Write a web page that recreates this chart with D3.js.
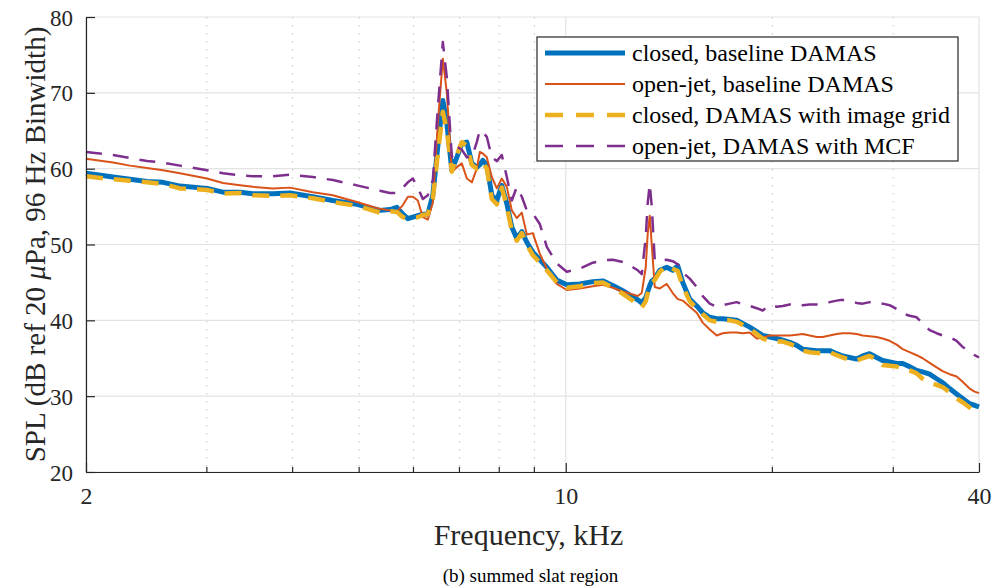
<!DOCTYPE html>
<html>
<head>
<meta charset="utf-8">
<script src="https://cdn.jsdelivr.net/npm/d3@7"></script>
<style>
  body { margin: 0; background: #fff; }
  svg { display: block; font-family: "Liberation Serif", "DejaVu Serif", serif; }
</style>
</head>
<body>
<svg></svg>
<script>
// frequency grid, kHz
var freq = [2.000,2.190,2.318,2.454,2.589,2.741,3.001,3.166,3.352,3.501,3.744,3.964,4.281,4.578,4.962,5.360,5.543,5.674,5.790,5.888,
  5.987,6.088,6.191,6.296,6.402,6.511,6.621,6.710,6.824,6.939,7.056,7.176,7.297,7.420,7.495,7.571,7.673,7.803,7.935,8.069,
  8.206,8.344,8.485,8.629,8.775,8.953,9.166,9.384,9.704,10.034,10.482,10.949,11.322,11.708,12.107,12.520,12.732,12.904,13.078,13.166,
  13.255,13.344,13.479,13.707,14.032,14.317,14.559,14.806,15.157,15.517,15.833,16.209,16.594,16.931,17.333,17.745,18.105,18.535,18.976,19.361,
  19.821,20.292,20.704,21.196,21.699,22.140,22.666,23.204,23.676,24.238,24.814,25.318,25.919,26.535,27.074,27.717,28.375,28.952,29.640,30.344,
  30.960,31.695,32.448,33.108,33.894,34.699,35.404,36.245,37.105,37.859,38.758,39.414,40.000];

var closedBase = [59.4,58.9,58.6,58.3,58.2,57.7,57.4,56.9,56.9,56.7,56.7,56.8,56.3,55.8,55.3,54.5,54.6,54.9,54.0,53.4,
  53.6,53.8,54.0,54.0,56.5,63.0,69.0,66.0,59.8,61.5,63.3,63.5,60.7,60.2,60.5,61.1,60.5,56.5,55.8,57.8,
  55.4,52.3,50.8,51.7,50.3,49.0,48.0,47.0,45.3,44.7,44.8,45.1,45.2,44.6,43.9,43.1,42.7,42.3,43.0,43.8,
  44.6,45.2,45.5,46.6,47.0,46.6,47.2,45.0,42.8,41.9,41.0,40.4,40.2,40.2,40.1,40.0,39.6,39.1,38.5,38.0,
  37.8,37.6,37.4,37.1,36.7,36.2,36.1,36.0,36.0,36.0,35.6,35.3,35.1,34.9,35.3,35.6,35.1,34.7,34.5,34.3,
  34.3,33.9,33.4,33.2,32.9,32.3,31.8,31.0,30.3,29.7,29.0,28.8,28.6];

var openBase = [61.3,60.8,60.4,60.1,59.8,59.4,58.7,58.1,57.8,57.6,57.4,57.5,56.9,56.5,55.6,54.7,54.5,54.3,55.2,56.3,
  56.3,55.8,53.6,53.3,55.5,66.0,74.5,70.0,59.6,60.2,60.7,58.7,58.2,60.0,62.2,62.0,61.5,58.9,57.4,58.7,
  57.6,54.5,53.5,54.2,51.3,51.5,48.8,46.8,44.8,44.0,44.2,44.5,44.7,44.3,43.8,43.4,43.2,43.6,47.0,51.5,
  53.8,50.0,44.4,44.2,44.8,43.6,42.8,42.6,41.8,41.0,39.7,38.8,38.0,38.3,38.4,38.4,38.3,38.4,37.6,37.7,
  38.0,38.0,38.0,38.0,38.1,38.2,38.0,37.8,37.8,38.0,38.2,38.3,38.3,38.2,38.0,37.9,37.8,37.6,37.3,36.8,
  36.2,35.8,35.4,35.0,34.4,33.8,33.3,32.9,32.6,31.9,31.0,30.6,30.4];

var closedImage = [59.0,58.6,58.4,58.2,58.0,57.4,57.2,56.7,56.8,56.5,56.4,56.5,56.1,55.6,55.1,54.2,54.4,54.3,53.6,53.4,
  53.5,53.6,53.9,54.0,56.0,62.0,67.5,65.0,59.6,61.8,63.5,63.0,60.5,60.0,60.3,60.8,60.0,56.0,55.3,57.5,
  55.0,51.8,50.5,51.5,50.0,48.6,47.6,46.6,45.0,44.3,44.5,44.9,45.0,44.3,43.5,42.6,41.8,41.7,42.5,43.6,
  44.5,45.0,45.3,46.4,47.2,46.8,46.5,44.5,42.5,41.6,40.8,40.0,39.8,40.0,40.0,39.8,39.4,38.9,38.2,37.6,
  37.3,37.2,37.2,36.9,36.5,36.0,35.8,35.7,35.7,35.8,35.4,35.1,34.8,34.7,35.0,35.3,34.8,34.1,34.0,33.9,
  33.7,33.4,33.0,32.3,31.8,31.5,31.2,30.5,29.7,29.2,28.5,28.0,27.6];

var openMCF = [62.2,61.8,61.4,61.0,60.8,60.4,59.8,59.4,59.1,59.0,59.0,59.2,58.9,58.5,57.8,57.1,56.8,56.8,57.5,58.2,
  58.7,57.5,56.0,56.5,58.5,68.0,76.7,72.0,61.5,62.9,62.5,61.5,61.5,63.5,65.1,64.8,64.2,61.5,61.0,61.8,
  58.9,55.8,57.6,56.3,54.5,54.1,52.7,49.7,47.5,46.4,46.8,47.6,47.9,48.0,47.7,47.0,46.6,46.1,51.0,55.5,
  58.0,55.0,47.9,47.9,48.0,47.8,47.4,46.3,45.5,44.4,43.2,42.2,41.8,42.0,42.2,42.4,42.1,41.9,41.6,41.3,
  42.0,41.8,41.9,42.1,42.2,42.0,42.1,42.1,42.2,42.4,42.6,42.7,42.5,42.3,42.2,42.4,42.3,42.2,42.0,41.5,
  40.9,40.6,40.4,39.6,38.7,38.3,38.0,37.8,37.3,36.5,35.8,35.4,35.1];

var seriesNames = ["closed, baseline DAMAS", "open-jet, baseline DAMAS", "closed, DAMAS with image grid", "open-jet, DAMAS with MCF"];
var seriesValues = [closedBase, openBase, closedImage, openMCF];

var yTicks = [20, 30, 40, 50, 60, 70, 80];
var xMajor = [2, 10, 40];
var xMinor = [3, 4, 5, 6, 7, 8, 9, 20, 30];

var serif = "'Liberation Serif', 'DejaVu Serif', serif";

var screen = {width: 996, height: 586};
var margins = {top: 17, bottom: 114, left: 86, right: 17};
var width = screen.width - margins.left - margins.right;
var height = screen.height - margins.top - margins.bottom;

var styles = [
  {color: "#0072BD", w: 5, dash: null},
  {color: "#D95319", w: 2, dash: null},
  {color: "#EDB120", w: 4.5, dash: "17,11"},
  {color: "#7E2F8E", w: 2.5, dash: "16,11"}
];

var svg = d3.select("svg")
  .attr("width", screen.width)
  .attr("height", screen.height);

var xScale = d3.scaleLog().domain([2, 40]).range([0, width]);
var yScale = d3.scaleLinear().domain([20, 80]).range([height, 0]);

var plot = svg.append("g")
  .attr("transform", "translate(" + margins.left + "," + margins.top + ")");

// grid
plot.append("g").selectAll("line")
  .data(yTicks).enter().append("line")
  .attr("x1", 0).attr("x2", width)
  .attr("y1", function(d) { return yScale(d); })
  .attr("y2", function(d) { return yScale(d); })
  .attr("stroke", "#e3e3e3").attr("stroke-width", 1.2);

plot.append("g").selectAll("line")
  .data(xMajor).enter().append("line")
  .attr("x1", function(d) { return xScale(d); })
  .attr("x2", function(d) { return xScale(d); })
  .attr("y1", 0).attr("y2", height)
  .attr("stroke", "#e3e3e3").attr("stroke-width", 1.2);

plot.append("g").selectAll("line")
  .data(xMinor).enter().append("line")
  .attr("x1", function(d) { return xScale(d); })
  .attr("x2", function(d) { return xScale(d); })
  .attr("y1", 0).attr("y2", height)
  .attr("stroke", "#c4c4c4").attr("stroke-width", 1)
  .attr("stroke-dasharray", "1.5,6.5");

// lines
var line = d3.line()
  .x(function(d, i) { return xScale(freq[i]); })
  .y(function(d) { return yScale(d); });

plot.append("g").selectAll("path")
  .data(seriesValues).enter().append("path")
  .attr("d", function(d) { return line(d); })
  .attr("fill", "none")
  .attr("stroke", function(d, i) { return styles[i].color; })
  .attr("stroke-width", function(d, i) { return styles[i].w; })
  .attr("stroke-dasharray", function(d, i) { return styles[i].dash; })
  .attr("stroke-linejoin", "round");

// axes
var yAxis = d3.axisLeft(yScale).tickValues(yTicks).tickSizeInner(-9).tickSizeOuter(0).tickPadding(13);
var gy = plot.append("g").call(yAxis);
gy.select(".domain").attr("stroke", "#262626").attr("stroke-width", 1.2);
gy.selectAll(".tick line").attr("stroke", "#262626").attr("stroke-width", 1.2);
gy.selectAll("text").attr("fill", "#262626")
  .style("font-family", serif).style("font-size", "23px").attr("dy", "0.35em");

var xAxis = d3.axisBottom(xScale).tickValues(xMajor).tickFormat(d3.format("d"))
  .tickSizeInner(-9).tickSizeOuter(0).tickPadding(15);
var gx = plot.append("g").attr("transform", "translate(0," + height + ")").call(xAxis);
gx.select(".domain").attr("stroke", "#262626").attr("stroke-width", 1.2);
gx.selectAll(".tick line").attr("stroke", "#262626").attr("stroke-width", 1.2);
gx.selectAll("text").attr("fill", "#262626")
  .style("font-family", serif).style("font-size", "24px");

plot.append("g").selectAll("line")
  .data(xMinor).enter().append("line")
  .attr("x1", function(d) { return xScale(d); })
  .attr("x2", function(d) { return xScale(d); })
  .attr("y1", height).attr("y2", height - 5)
  .attr("stroke", "#262626").attr("stroke-width", 1.2);

// axis labels
svg.append("text")
  .attr("x", margins.left + width / 2 - 4).attr("y", 545)
  .attr("text-anchor", "middle").attr("fill", "#262626")
  .style("font-size", "30px")
  .text("Frequency, kHz");

var ylab = svg.append("text")
  .attr("transform", "translate(45," + (margins.top + height / 2) + ") rotate(-90)")
  .attr("text-anchor", "middle").attr("fill", "#262626")
  .style("font-size", "29px");
ylab.append("tspan").text("SPL (dB ref 20 ");
ylab.append("tspan").style("font-style", "italic").text("\u03bc");
ylab.append("tspan").text("Pa, 96 Hz Binwidth)");

svg.append("text")
  .attr("x", margins.left + width / 2 - 2).attr("y", 582)
  .attr("text-anchor", "middle").attr("fill", "#000")
  .style("font-size", "19px")
  .text("(b) summed slat region");

// legend
var legend = svg.append("g")
  .attr("transform", "translate(537,37)");

legend.append("rect")
  .attr("x", 0).attr("y", 0).attr("width", 421).attr("height", 124)
  .attr("fill", "#fff").attr("stroke", "#262626").attr("stroke-width", 1.2);

var legendLines = legend.selectAll("g.legendLine")
  .data(seriesNames).enter().append("g")
  .classed("legendLine", true)
  .attr("transform", function(d, i) { return "translate(0," + (16 + i * 31) + ")"; });

legendLines.append("line")
  .attr("x1", 8).attr("x2", 88).attr("y1", 0).attr("y2", 0)
  .attr("stroke", function(d, i) { return styles[i].color; })
  .attr("stroke-width", function(d, i) { return styles[i].w; })
  .attr("stroke-dasharray", function(d, i) { return styles[i].dash ? "18,13" : null; });

legendLines.append("text")
  .attr("x", 95).attr("y", 0).attr("dy", "0.33em")
  .attr("fill", "#000")
  .style("font-size", "24px")
  .text(function(d) { return d; });
</script>
</body>
</html>
